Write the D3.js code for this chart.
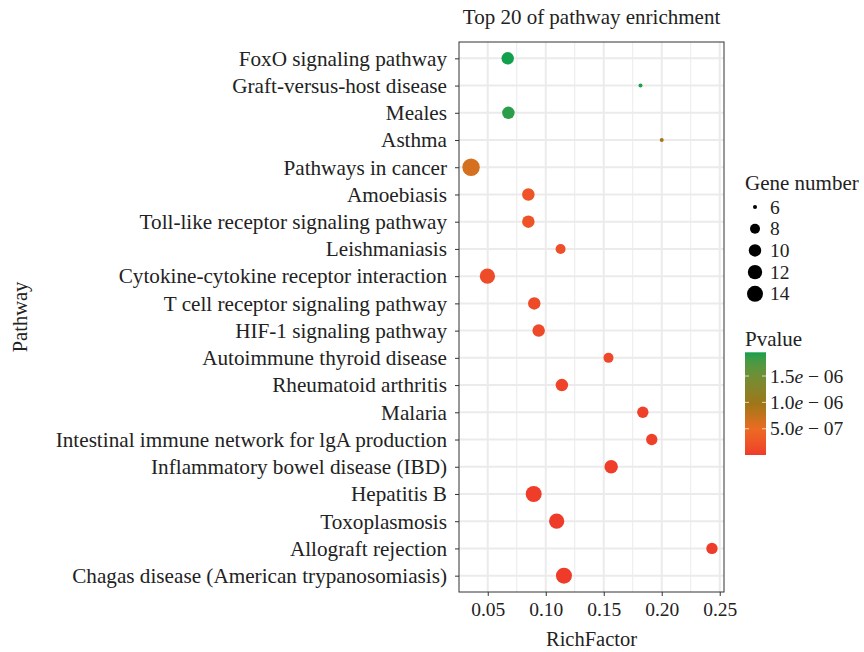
<!DOCTYPE html>
<html><head><meta charset="utf-8">
<script src="https://cdn.jsdelivr.net/npm/d3@7/dist/d3.min.js"></script>
<style>
body{margin:0;background:#fff;}
text{font-family:"Liberation Serif","Times New Roman",serif;fill:#222;}
</style>
</head><body>
<svg id="chart" width="864" height="652"></svg>
<script>
// ---------------- data ----------------
const pathways = [
  "FoxO signaling pathway",
  "Graft-versus-host disease",
  "Meales",
  "Asthma",
  "Pathways in cancer",
  "Amoebiasis",
  "Toll-like receptor signaling pathway",
  "Leishmaniasis",
  "Cytokine-cytokine receptor interaction",
  "T cell receptor signaling pathway",
  "HIF-1 signaling pathway",
  "Autoimmune thyroid disease",
  "Rheumatoid arthritis",
  "Malaria",
  "Intestinal immune network for lgA production",
  "Inflammatory bowel disease (IBD)",
  "Hepatitis B",
  "Toxoplasmosis",
  "Allograft rejection",
  "Chagas disease (American trypanosomiasis)"
];
const richFactor = [0.0672, 0.1817, 0.0678, 0.2000, 0.0356, 0.0850, 0.0850, 0.1128, 0.0497, 0.0901,
                    0.0939, 0.1541, 0.1139, 0.1837, 0.1914, 0.1564, 0.0896, 0.1094, 0.2433, 0.1157];
const geneNumber = [10, 6, 10, 6, 16, 10, 10, 8, 13, 10,
                    10, 8, 10, 9, 9, 11, 14, 13, 9, 14];
const pValue = [1.95e-6, 1.93e-6, 1.90e-6, 9.4e-7, 6.4e-7, 2.3e-7, 2.1e-7, 1.7e-7, 1.5e-7, 1.3e-7,
                1.2e-7, 1.0e-7, 8e-8, 5e-8, 4e-8, 3e-8, 2e-8, 1e-8, 5e-9, 2e-9];
const xTicks = [0.05, 0.10, 0.15, 0.20, 0.25];
const xMinorTicks = [0.075, 0.125, 0.175, 0.225];
const sizeBreaks = [6, 8, 10, 12, 14];
const pBreaks = [1.5e-6, 1.0e-6, 5e-7];
const pBreakMantissa = ["1.5", "1.0", "5.0"];
const pBreakExponent = ["06", "06", "07"];
const colorStops = ["#EF3B2A", "#EC6A22", "#9E7618", "#12A04C"];
const colorStopPos = [0, 0.25, 0.5, 1];

// ---------------- layout ----------------
const svg = d3.select("#chart");
const P = {left: 459, right: 724, top: 42, bottom: 592};
const ink = "#222";

const xExt = d3.extent(richFactor);
const xPad = (xExt[1] - xExt[0]) * 0.05;
const x = d3.scaleLinear().domain([xExt[0] - xPad, xExt[1] + xPad]).range([P.left, P.right]);
const y = d3.scalePoint().domain(pathways).range([P.top, P.bottom]).padding(0.6);

const gExt = d3.extent(geneNumber);
const rLin = d3.scaleLinear().domain([0, 1]).range([2, 8.71]);
const r = v => rLin(Math.sqrt((v - gExt[0]) / (gExt[1] - gExt[0])));

const pExt = d3.extent(pValue);
const pNorm = d3.scaleLinear().domain(pExt).range([0, 1]);
const ramp = d3.scaleLinear().domain(colorStopPos).range(colorStops).interpolate(d3.interpolateLab);
const color = v => ramp(pNorm(v));

// grid
const grid = svg.append("g");
grid.selectAll(".minor").data(xMinorTicks).join("line")
  .attr("x1", d => x(d)).attr("x2", d => x(d)).attr("y1", P.top).attr("y2", P.bottom)
  .attr("stroke", "#ebebeb").attr("stroke-width", 1);
grid.selectAll(".majx").data(xTicks).join("line")
  .attr("x1", d => x(d)).attr("x2", d => x(d)).attr("y1", P.top).attr("y2", P.bottom)
  .attr("stroke", "#ebebeb").attr("stroke-width", 2);
grid.selectAll(".majy").data(pathways).join("line")
  .attr("x1", P.left).attr("x2", P.right).attr("y1", d => y(d)).attr("y2", d => y(d))
  .attr("stroke", "#ebebeb").attr("stroke-width", 2);

// points
svg.append("g").selectAll("circle").data(pathways).join("circle")
  .attr("cx", (d, i) => x(richFactor[i]))
  .attr("cy", d => y(d))
  .attr("r", (d, i) => r(geneNumber[i]))
  .attr("fill", (d, i) => color(pValue[i]));

// border
svg.append("rect").attr("x", P.left).attr("y", P.top)
  .attr("width", P.right - P.left).attr("height", P.bottom - P.top)
  .attr("fill", "none").attr("stroke", "#333").attr("stroke-width", 1);

// axes
const xAxis = d3.axisBottom(x).tickValues(xTicks).tickFormat(d3.format(".2f")).tickSizeOuter(0).tickSizeInner(4).tickPadding(6);
const gx = svg.append("g").attr("transform", `translate(0,${P.bottom})`).call(xAxis);
gx.select(".domain").remove();
gx.selectAll("line").attr("stroke", "#333");
gx.selectAll("text").attr("font-size", 19.5).attr("fill", ink).style("font-family", "Liberation Serif");

const yAxis = d3.axisLeft(y).tickSizeOuter(0).tickSizeInner(4).tickPadding(8);
const gy = svg.append("g").attr("transform", `translate(${P.left},0)`).call(yAxis);
gy.select(".domain").remove();
gy.selectAll("line").attr("stroke", "#333");
gy.selectAll("text").attr("font-size", 21.2).attr("fill", ink).style("font-family", "Liberation Serif");

// titles
svg.append("text").attr("x", (P.left + P.right) / 2).attr("y", 24).attr("text-anchor", "middle")
  .attr("font-size", 21).text("Top 20 of pathway enrichment");
svg.append("text").attr("x", (P.left + P.right) / 2).attr("y", 646).attr("text-anchor", "middle")
  .attr("font-size", 20.5).text("RichFactor");
svg.append("text").attr("transform", `translate(27,${(P.top + P.bottom) / 2}) rotate(-90)`)
  .attr("text-anchor", "middle").attr("font-size", 20.5).text("Pathway");

// size legend
const L = {x: 745, keyX: 755, labelX: 770};
svg.append("text").attr("x", L.x).attr("y", 190).attr("font-size", 21).text("Gene number");
const sizeLeg = svg.append("g");
sizeBreaks.forEach((v, i) => {
  const cy = 207 + i * 21.7;
  sizeLeg.append("circle").attr("cx", L.keyX).attr("cy", cy).attr("r", r(v)).attr("fill", "#000");
  sizeLeg.append("text").attr("x", L.labelX).attr("y", cy + 6.5).attr("font-size", 19.5).text(v);
});

// colour legend
svg.append("text").attr("x", L.x).attr("y", 345.5).attr("font-size", 21).text("Pvalue");
const bar = {x: 745, w: 21, top: 352.3, bottom: 455};
const defs = svg.append("defs");
const grad = defs.append("linearGradient").attr("id", "pgrad")
  .attr("x1", 0).attr("y1", 1).attr("x2", 0).attr("y2", 0);
d3.range(0, 1.0001, 0.05).forEach(t => {
  grad.append("stop").attr("offset", t)
    .attr("stop-color", color(pExt[0] + t * (pExt[1] - pExt[0])));
});
svg.append("rect").attr("x", bar.x).attr("y", bar.top).attr("width", bar.w)
  .attr("height", bar.bottom - bar.top).attr("fill", "url(#pgrad)");
const barY = d3.scaleLinear().domain(pExt).range([bar.bottom, bar.top]);
pBreaks.forEach((v, i) => {
  const ty = barY(v);
  svg.append("line").attr("x1", bar.x).attr("x2", bar.x + 4).attr("y1", ty).attr("y2", ty)
    .attr("stroke", "#fff").attr("stroke-opacity", 0.7).attr("stroke-width", 1);
  svg.append("line").attr("x1", bar.x + bar.w - 4).attr("x2", bar.x + bar.w).attr("y1", ty).attr("y2", ty)
    .attr("stroke", "#fff").attr("stroke-opacity", 0.7).attr("stroke-width", 1);
  const t = svg.append("text").attr("x", L.labelX).attr("y", ty + 6.5).attr("font-size", 19.5);
  t.append("tspan").text(pBreakMantissa[i]);
  t.append("tspan").attr("font-style", "italic").text("e");
  t.append("tspan").text(" \u2212 " + pBreakExponent[i]);
});
</script>
</body></html>
